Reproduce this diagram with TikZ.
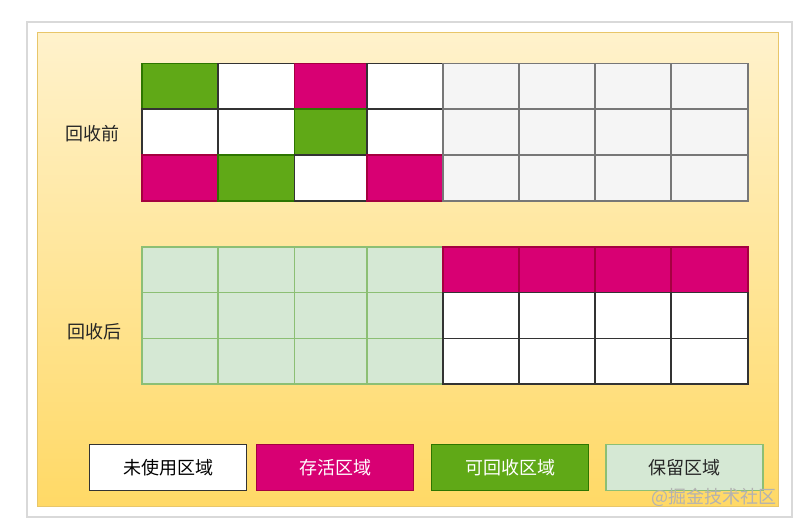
\documentclass[tikz,border=0pt]{standalone}
\usepackage{fontspec}
\setmainfont{Noto Sans CJK SC}
\definecolor{ytop}{HTML}{FFF2CC}
\definecolor{ybot}{HTML}{FFD966}
\definecolor{ystroke}{HTML}{E8C66A}
\definecolor{gfill}{HTML}{60A917}
\definecolor{gdraw}{HTML}{2D7600}
\definecolor{pfill}{HTML}{D80073}
\definecolor{pdraw}{HTML}{A50040}
\definecolor{qfill}{HTML}{F5F5F5}
\definecolor{qdraw}{HTML}{777777}
\definecolor{lfill}{HTML}{D5E8D4}
\definecolor{ldraw}{HTML}{8CBF74}
\definecolor{frame}{HTML}{D9D9D9}
\begin{document}
\begin{tikzpicture}[x=1pt,y=-1pt,
  cg/.style={fill=gfill,draw=gdraw,line width=1.3pt},
  cw/.style={fill=white,draw=black!80,line width=1.3pt},
  cp/.style={fill=pfill,draw=pdraw,line width=1.3pt},
  cq/.style={fill=qfill,draw=qdraw,line width=1.3pt},
  cl/.style={fill=lfill,draw=ldraw,line width=1.3pt},
  lab/.style={font=\fontsize{18}{21}\selectfont,text=black!85,inner sep=0pt},
  leg/.style={minimum width=157pt,minimum height=46pt,inner sep=0pt,line width=1.3pt,font=\fontsize{18}{21}\selectfont}]
\useasboundingbox (0,0) rectangle (794,524);
\fill[white] (0,0) rectangle (794,524);
\draw[frame,line width=1.5pt] (27,22) rectangle (792,517);
\shade[top color=ytop,bottom color=ybot,draw=ystroke,line width=1pt] (37.5,32.5) rectangle (778,506);
% top grid
\foreach \xa/\xb/\sa/\sb/\sc in {142/218/cg/cw/cp,218/294.5/cw/cw/cg,294.5/367/cp/cg/cw,367/443/cw/cw/cp,443/519/cq/cq/cq,519/595/cq/cq/cq,595/671/cq/cq/cq,671/748/cq/cq/cq}{
  \draw[\sa] (\xa,63.5) rectangle (\xb,109);
  \draw[\sb] (\xa,109) rectangle (\xb,155);
  \draw[\sc] (\xa,155) rectangle (\xb,201);
}
% bottom grid
\foreach \xa/\xb/\sa/\sb/\sc in {142/218/cl/cl/cl,218/294.5/cl/cl/cl,294.5/367/cl/cl/cl,367/443/cl/cl/cl,443/519/cp/cw/cw,519/595/cp/cw/cw,595/671/cp/cw/cw,671/748/cp/cw/cw}{
  \draw[\sa] (\xa,247) rectangle (\xb,292.5);
  \draw[\sb] (\xa,292.5) rectangle (\xb,338.5);
  \draw[\sc] (\xa,338.5) rectangle (\xb,384);
}
\node[lab] (before) at (92.5,134) {回收前};
\node[lab] (after) at (94.5,332) {回收后};
% legend
\node[leg,fill=white,draw=black!80] (unused) at (168,467.5) {未使用区域};
\node[leg,fill=pfill,draw=pdraw,text=white] (alive) at (335,467.5) {存活区域};
\node[leg,fill=gfill,draw=gdraw,text=white] (recl) at (510,467.5) {可回收区域};
\node[leg,fill=lfill,draw=ldraw,text=black!85] (resv) at (684.5,467.5) {保留区域};
\node[font=\fontsize{18}{21}\selectfont,text=black!30,inner sep=0pt,anchor=east] (wm) at (777,497) {@掘金技术社区};
\end{tikzpicture}
\end{document}
